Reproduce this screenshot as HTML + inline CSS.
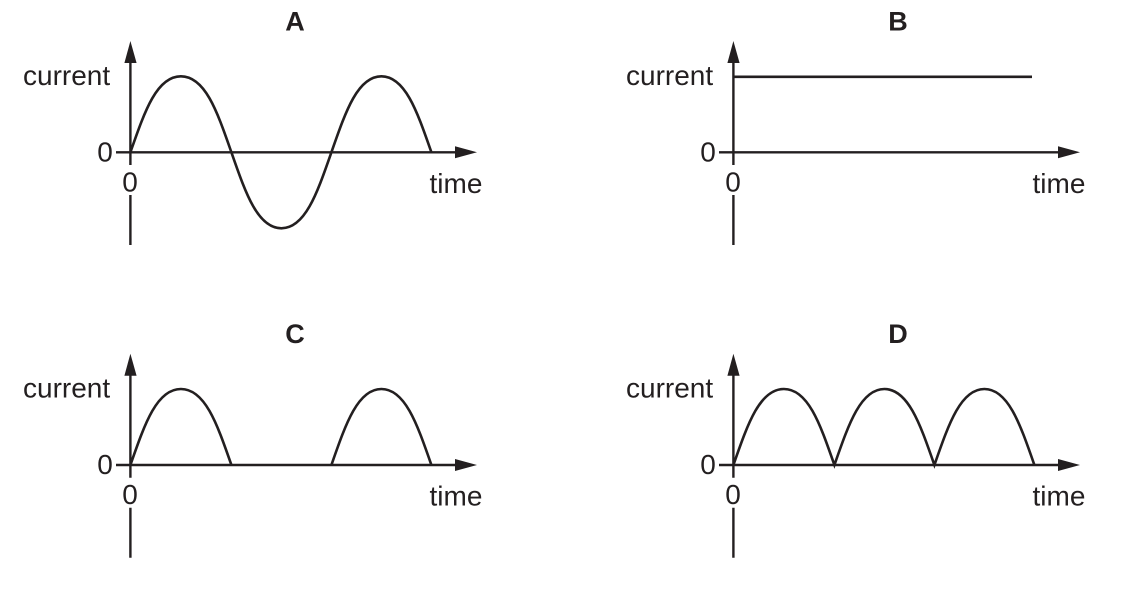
<!DOCTYPE html>
<html>
<head>
<meta charset="utf-8">
<style>
html,body{margin:0;padding:0;background:#fff;width:1130px;height:610px;overflow:hidden}
svg{display:block}
text{font-family:"Liberation Sans",sans-serif;font-size:28px;fill:#231f20}
.t{font-weight:bold;font-size:27px;text-anchor:middle}
.l{fill:none;stroke:#231f20;stroke-width:2.4}
.c{fill:none;stroke:#231f20;stroke-width:2.6}
.a{fill:#231f20}
</style>
</head>
<body>
<svg width="1130" height="610" viewBox="0 0 1130 610" xmlns="http://www.w3.org/2000/svg">

<!-- A -->
<g>
<text class="t" x="295" y="30.3">A</text>
<text x="23" y="85">current</text>
<text x="97.3" y="161.5">0</text>
<text x="122.3" y="191.5">0</text>
<text x="429.5" y="193">time</text>
<path class="l" d="M130.4 60V165M130.4 195V245M116 152.3H458"/>
<path class="a" d="M130.4 41L136.6 63H124.4Z"/>
<path class="a" d="M477 152.3L455 146.3V158.3Z"/>
<path class="c" d="M130.4 152.3C144.4 112.3 156.4 76.3 180.9 76.3C205.4 76.3 217.4 112.3 231.4 152.3C245.4 192.3 257.4 228.3 281.4 228.3C305.4 228.3 317.4 192.3 331.4 152.3C345.4 112.3 357.4 76.3 381.4 76.3C405.4 76.3 417.4 112.3 431.4 152.3"/>
</g>

<!-- B -->
<g transform="translate(603,0)">
<text class="t" x="295" y="30.3">B</text>
<text x="23" y="85">current</text>
<text x="97.3" y="161.5">0</text>
<text x="122.3" y="191.5">0</text>
<text x="429.5" y="193">time</text>
<path class="l" d="M130.4 60V165M130.4 195V245M116 152.3H458"/>
<path class="a" d="M130.4 41L136.6 63H124.4Z"/>
<path class="a" d="M477 152.3L455 146.3V158.3Z"/>
<path class="c" d="M130.4 76.8H429"/>
</g>

<!-- C -->
<g transform="translate(0,312.7)">
<text class="t" x="295" y="30.3">C</text>
<text x="23" y="85">current</text>
<text x="97.3" y="161.5">0</text>
<text x="122.3" y="191.5">0</text>
<text x="429.5" y="193">time</text>
<path class="l" d="M130.4 60V165M130.4 195V245M116 152.3H458"/>
<path class="a" d="M130.4 41L136.6 63H124.4Z"/>
<path class="a" d="M477 152.3L455 146.3V158.3Z"/>
<path class="c" d="M130.4 152.3C144.4 112.3 156.4 76.3 180.9 76.3C205.4 76.3 217.4 112.3 231.4 152.3M331.4 152.3C345.4 112.3 357.4 76.3 381.4 76.3C405.4 76.3 417.4 112.3 431.4 152.3"/>
</g>

<!-- D -->
<g transform="translate(603,312.7)">
<text class="t" x="295" y="30.3">D</text>
<text x="23" y="85">current</text>
<text x="97.3" y="161.5">0</text>
<text x="122.3" y="191.5">0</text>
<text x="429.5" y="193">time</text>
<path class="l" d="M130.4 60V165M130.4 195V245M116 152.3H458"/>
<path class="a" d="M130.4 41L136.6 63H124.4Z"/>
<path class="a" d="M477 152.3L455 146.3V158.3Z"/>
<path class="c" d="M130.4 152.3C144.4 112.3 156.4 76.3 180.9 76.3C205.4 76.3 217.4 112.3 231.4 152.3C245.4 112.3 257.4 76.3 281.4 76.3C305.4 76.3 317.4 112.3 331.4 152.3C345.4 112.3 357.4 76.3 381.4 76.3C405.4 76.3 417.4 112.3 431.4 152.3"/>
</g>
</svg>
</body>
</html>
